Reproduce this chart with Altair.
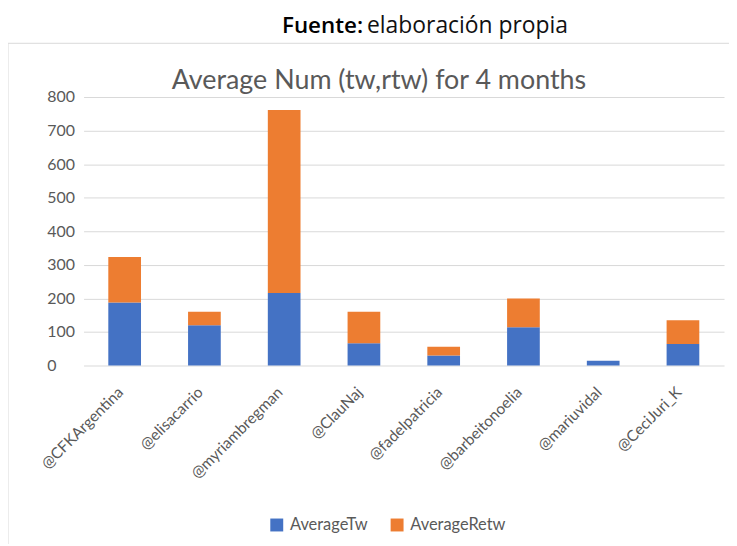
import altair as alt
import pandas as pd

accounts = ["@CFKArgentina", "@elisacarrio", "@myriambregman", "@ClauNaj",
            "@fadelpatricia", "@barbeitonoelia", "@mariuvidal", "@CeciJuri_K"]
average_tw = [188, 120, 216, 66, 30, 114, 14, 64]
average_retw = [135, 40, 545, 94, 26, 86, 0, 71]
series = ["AverageTw", "AverageRetw"]
y_ticks = [0, 100, 200, 300, 400, 500, 600, 700, 800]

rows = []
for i, a in enumerate(accounts):
    rows.append({"account": a, "series": series[0], "value": average_tw[i], "ord": 0})
    rows.append({"account": a, "series": series[1], "value": average_retw[i], "ord": 1})
df = pd.DataFrame(rows)

FONT = "Lato"
GREY = "#595959"

bars = alt.Chart(df).mark_bar().encode(
    x=alt.X("account:N", sort=accounts, title=None,
            scale=alt.Scale(paddingInner=0.59, paddingOuter=0.31),
            axis=alt.Axis(labelAngle=-45, labelAlign="right", labelBaseline="middle",
                          labelFontSize=15.5, labelColor=GREY,
                          labelFont=FONT, domain=False, ticks=False, tickSize=0,
                          labelPadding=24, labelOffset=-4, grid=False)),
    y=alt.Y("value:Q", stack="zero", title=None,
            scale=alt.Scale(domain=[0, 800], nice=False),
            axis=alt.Axis(values=y_ticks, labelAlign="left", labelPadding=37,
                          ticks=False, tickSize=0, domain=False,
                          labelFontSize=16, labelColor=GREY, labelFont=FONT,
                          gridColor="#D9D9D9", gridWidth=1)),
    color=alt.Color("series:N", scale=alt.Scale(domain=series, range=["#4472C4", "#ED7D31"]),
                    legend=alt.Legend(orient="none", direction="horizontal", title=None,
                                      legendX=186, legendY=422, symbolType="square",
                                      symbolSize=169, symbolStrokeWidth=0, labelFont=FONT,
                                      labelFontSize=16.5, labelColor=GREY, labelOffset=5,
                                      columnPadding=21)),
    order=alt.Order("ord:Q"),
)

one = pd.DataFrame({"k": [0]})

border_top = alt.Chart(one).mark_rule(color="#D9D9D9", strokeWidth=1).encode(
    x=alt.value(-76), x2=alt.value(660), y=alt.value(-54))
border_left = alt.Chart(one).mark_rule(color="#D9D9D9", strokeWidth=1).encode(
    x=alt.value(-76), y=alt.value(-54), y2=alt.value(470))

fuente = alt.Chart(one).mark_text(text="Fuente:", font="Open Sans", fontSize=22.5, fontWeight=600,
                                  color="#000000", align="right", baseline="alphabetic").encode(
    x=alt.value(281), y=alt.value(-64))
fuente2 = alt.Chart(one).mark_text(text="elaboración propia", font="Open Sans", fontSize=23,
                                   color="#111111", align="left", baseline="alphabetic").encode(
    x=alt.value(285), y=alt.value(-64))
title = alt.Chart(one).mark_text(text="Average Num (tw,rtw) for 4 months", font=FONT,
                                 fontSize=27, color=GREY, align="center",
                                 baseline="alphabetic").encode(
    x=alt.value(297), y=alt.value(-8))

chart = alt.layer(border_top, border_left, bars, fuente, fuente2, title).properties(
    width=644, height=270,
    autosize=alt.AutoSizeParams(type="none"),
    padding={"left": 76, "top": 88, "right": 5, "bottom": 178},
).configure_view(stroke=None)

chart.save("out.html", embed_options={"renderer": "svg", "actions": False})
